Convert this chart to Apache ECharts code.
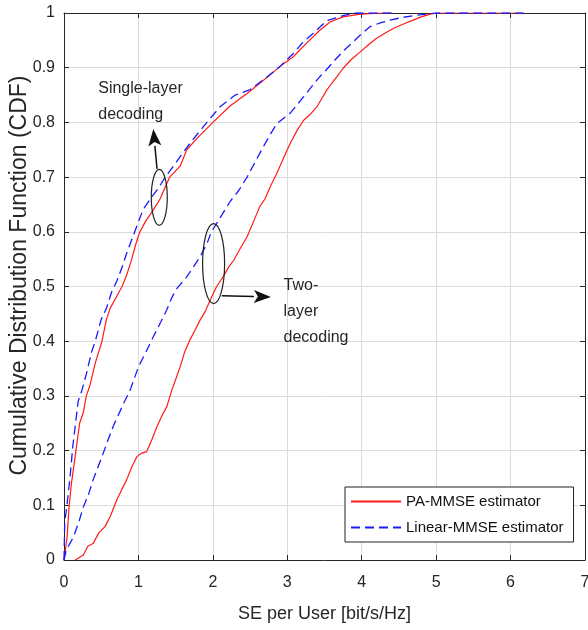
<!DOCTYPE html>
<html>
<head>
<meta charset="utf-8">
<script src="https://cdn.jsdelivr.net/npm/echarts@6/dist/echarts.min.js"></script>
<style>
  html, body { margin: 0; padding: 0; background: #fff; }
  #chart { width: 588px; height: 630px; }
</style>
</head>
<body>
<div id="chart"></div>
<script>
// CDF curves, [SE, CDF]
var singlePA = [[0,0],[0.04,0.04],[0.07,0.1],[0.10,0.14],[0.16,0.2],[0.21,0.25],[0.26,0.27],[0.30,0.30],[0.35,0.32],
    [0.42,0.36],[0.51,0.40],[0.57,0.44],[0.62,0.46],[0.70,0.48],[0.78,0.50],[0.84,0.52],[0.91,0.55],[0.97,0.58],
    [1.02,0.60],[1.10,0.62],[1.20,0.64],[1.29,0.66],[1.42,0.70],[1.56,0.72],[1.65,0.75],[1.78,0.77],[2.0,0.80],
    [2.23,0.83],[2.46,0.853],[2.68,0.877],[2.90,0.902],[3.08,0.92],[3.26,0.945],[3.44,0.969],[3.58,0.984],
    [3.75,0.993],[3.98,0.998],[4.3,1],[4.4,1]];
var singleLin = [[0,0],[0.01,0.07],[0.04,0.1],[0.08,0.15],[0.12,0.21],[0.19,0.29],[0.24,0.31],[0.30,0.34],[0.37,0.38],
    [0.42,0.40],[0.50,0.44],[0.57,0.46],[0.64,0.49],[0.71,0.51],[0.78,0.535],[0.84,0.56],[0.95,0.60],[1.06,0.64],
    [1.16,0.66],[1.27,0.68],[1.36,0.70],[1.47,0.72],[1.60,0.745],[1.74,0.77],[1.92,0.80],[2.10,0.829],[2.3,0.85],
    [2.5,0.86],[2.7,0.88],[2.9,0.902],[3.08,0.926],[3.22,0.948],[3.35,0.963],[3.53,0.986],[3.75,0.995],[3.9,1],[4.4,1]];
var twoLin = [[0,0],[0.03,0.018],[0.13,0.043],[0.2,0.07],[0.26,0.097],[0.33,0.12],[0.39,0.146],[0.51,0.189],
    [0.58,0.215],[0.66,0.244],[0.80,0.286],[0.89,0.311],[1.0,0.353],[1.1,0.38],[1.2,0.408],[1.3,0.435],[1.38,0.457],
    [1.45,0.48],[1.52,0.497],[1.64,0.516],[1.74,0.536],[1.83,0.555],[1.92,0.578],[1.98,0.6],[2.05,0.615],[2.23,0.655],
    [2.35,0.676],[2.46,0.70],[2.57,0.728],[2.68,0.756],[2.78,0.78],[2.86,0.798],[3.04,0.817],[3.13,0.832],[3.22,0.847],
    [3.33,0.866],[3.44,0.884],[3.55,0.90],[3.62,0.911],[3.75,0.93],[3.89,0.948],[4.0,0.962],[4.11,0.975],[4.25,0.982],
    [4.38,0.987],[4.55,0.992],[4.74,0.996],[5.0,1],[6.17,1]];
var twoPA = [[0.15,0],[0.26,0.009],[0.32,0.025],[0.39,0.03],[0.47,0.05],[0.55,0.061],[0.62,0.079],[0.71,0.11],
    [0.78,0.13],[0.84,0.146],[0.91,0.17],[0.98,0.189],[1.04,0.195],[1.11,0.198],[1.18,0.22],[1.25,0.244],[1.32,0.265],
    [1.38,0.28],[1.45,0.311],[1.50,0.33],[1.56,0.353],[1.62,0.38],[1.69,0.402],[1.76,0.42],[1.83,0.439],[1.90,0.455],
    [1.96,0.474],[2.05,0.50],[2.14,0.518],[2.21,0.535],[2.28,0.548],[2.37,0.57],[2.46,0.591],[2.55,0.62],[2.63,0.646],
    [2.70,0.66],[2.78,0.685],[2.86,0.707],[2.95,0.735],[3.04,0.762],[3.13,0.785],[3.22,0.804],[3.31,0.815],[3.40,0.829],
    [3.47,0.845],[3.53,0.859],[3.60,0.872],[3.67,0.884],[3.75,0.899],[3.86,0.915],[3.98,0.929],[4.09,0.942],[4.20,0.954],
    [4.31,0.963],[4.43,0.972],[4.56,0.98],[4.69,0.987],[4.80,0.993],[4.92,0.998],[5.0,1],[6.17,1]];

var legendNames = ['PA-MMSE estimator', 'Linear-MMSE estimator'];
var xLabel = 'SE per User [bit/s/Hz]';
var yLabel = 'Cumulative Distribution Function (CDF)';

// annotation anchors in data units
var ellipseSingle = [1.28, 0.663];
var ellipseTwo = [2.01, 0.542];
var arrowSingle = [[1.25, 0.715], [1.20, 0.788]];
var arrowTwo = [[2.12, 0.483], [2.78, 0.481]];
var textSingle = [0.46, 0.885];
var textTwo = [2.95, 0.525];

var font = 'Liberation Sans, Arial, Helvetica, sans-serif';
var ink = '#262626';

var chart = echarts.init(document.getElementById('chart'));

function sideAxis(pos) {
    return {
        type: 'value', position: pos, min: 0, max: pos === 'top' ? 7 : 1, interval: pos === 'top' ? 1 : 0.1,
        axisLine: {show: true, onZero: false, lineStyle: {color: ink, width: 1}},
        axisTick: {show: true, inside: true, length: 5, lineStyle: {color: ink}},
        axisLabel: {show: false},
        splitLine: {show: false}
    };
}

var option = {
    animation: false,
    backgroundColor: '#fff',
    grid: {left: 64, right: 3, top: 13, bottom: 70, show: false, containLabel: false, outerBoundsMode: 'none'},
    legend: {
        data: legendNames,
        orient: 'vertical',
        left: 345, top: 487,
        itemWidth: 50, itemHeight: 14, itemGap: 11,
        padding: [7, 10, 7, 5],
        backgroundColor: '#fff',
        borderColor: '#222', borderWidth: 1, borderRadius: 0,
        itemStyle: {color: 'rgba(0,0,0,0)', borderColor: 'rgba(0,0,0,0)', borderWidth: 0, opacity: 0},
        textStyle: {fontFamily: font, fontSize: 15, color: '#111'}
    },
    xAxis: [{
        type: 'value', min: 0, max: 7, interval: 1,
        name: xLabel, nameLocation: 'middle', nameGap: 45,
        nameTextStyle: {fontFamily: font, fontSize: 18, color: ink},
        axisLine: {show: true, onZero: false, lineStyle: {color: ink, width: 1}},
        axisTick: {show: true, inside: true, length: 5, lineStyle: {color: ink}},
        axisLabel: {fontFamily: font, fontSize: 16, color: ink, margin: 15},
        splitLine: {show: true, lineStyle: {color: '#dcdcdc', width: 1}}
    }, sideAxis('top')],
    yAxis: [{
        type: 'value', min: 0, max: 1, interval: 0.1,
        name: yLabel, nameLocation: 'middle', nameGap: 33, nameRotate: 90, nameMoveOverlap: false,
        nameTextStyle: {fontFamily: font, fontSize: 23, color: ink, padding: [0, 0, 0, 22]},
        axisLine: {show: true, onZero: false, lineStyle: {color: ink, width: 1}},
        axisTick: {show: true, inside: true, length: 5, lineStyle: {color: ink}},
        axisLabel: {fontFamily: font, fontSize: 16, color: ink, margin: 9},
        splitLine: {show: true, lineStyle: {color: '#dcdcdc', width: 1}}
    }, sideAxis('right')],
    series: [
        {name: legendNames[0], type: 'line', data: singlePA, symbol: 'none', z: 3,
            lineStyle: {color: '#ff1a1a', width: 1.2}, itemStyle: {color: '#ff1a1a'}},
        {name: legendNames[0], type: 'line', data: twoPA, symbol: 'none', z: 3,
            lineStyle: {color: '#ff1a1a', width: 1.2}, itemStyle: {color: '#ff1a1a'}},
        {name: legendNames[1], type: 'line', data: singleLin, symbol: 'none', z: 4,
            lineStyle: {color: '#1a1aff', width: 1.3, type: [9, 5]}, itemStyle: {color: '#1a1aff'}},
        {name: legendNames[1], type: 'line', data: twoLin, symbol: 'none', z: 4,
            lineStyle: {color: '#1a1aff', width: 1.3, type: [9, 5]}, itemStyle: {color: '#1a1aff'}}
    ]
};
chart.setOption(option);

// annotations placed through the axes
function px(p) {
    return chart.convertToPixel({xAxisIndex: 0, yAxisIndex: 0}, p);
}
function arrow(a) {
    var p0 = px(a[0]), p1 = px(a[1]);
    var dx = p1[0] - p0[0], dy = p1[1] - p0[1];
    var len = Math.sqrt(dx * dx + dy * dy);
    var ux = dx / len, uy = dy / len;
    var hl = 17, hw = 6.5;
    var bx = p1[0] - ux * hl, by = p1[1] - uy * hl;
    return [
        {type: 'line', shape: {x1: p0[0], y1: p0[1], x2: bx, y2: by}, style: {stroke: '#111', lineWidth: 1.5}, z: 10},
        {type: 'polygon', shape: {points: [[p1[0], p1[1]], [bx - uy * hw, by + ux * hw], [bx + ux * 4, by + uy * 4], [bx + uy * hw, by - ux * hw]]},
            style: {fill: '#111'}, z: 10}
    ];
}
var e1 = px(ellipseSingle), e2 = px(ellipseTwo);
var t1 = px(textSingle), t2 = px(textTwo);
var graphics = [
    {type: 'ellipse', shape: {cx: e1[0], cy: e1[1], rx: 8, ry: 28}, style: {fill: 'none', stroke: '#222', lineWidth: 1.2}, z: 10},
    {type: 'ellipse', shape: {cx: e2[0], cy: e2[1], rx: 11, ry: 40}, style: {fill: 'none', stroke: '#222', lineWidth: 1.2}, z: 10},
    {type: 'text', x: t1[0], y: t1[1], z: 10,
        style: {text: 'Single-layer\ndecoding', fontFamily: font, fontSize: 16, lineHeight: 26, fill: ink}},
    {type: 'text', x: t2[0], y: t2[1], z: 10,
        style: {text: 'Two-\nlayer\ndecoding', fontFamily: font, fontSize: 16, lineHeight: 26, fill: ink}}
].concat(arrow(arrowSingle), arrow(arrowTwo));
chart.setOption({graphic: graphics});
</script>
</body>
</html>
